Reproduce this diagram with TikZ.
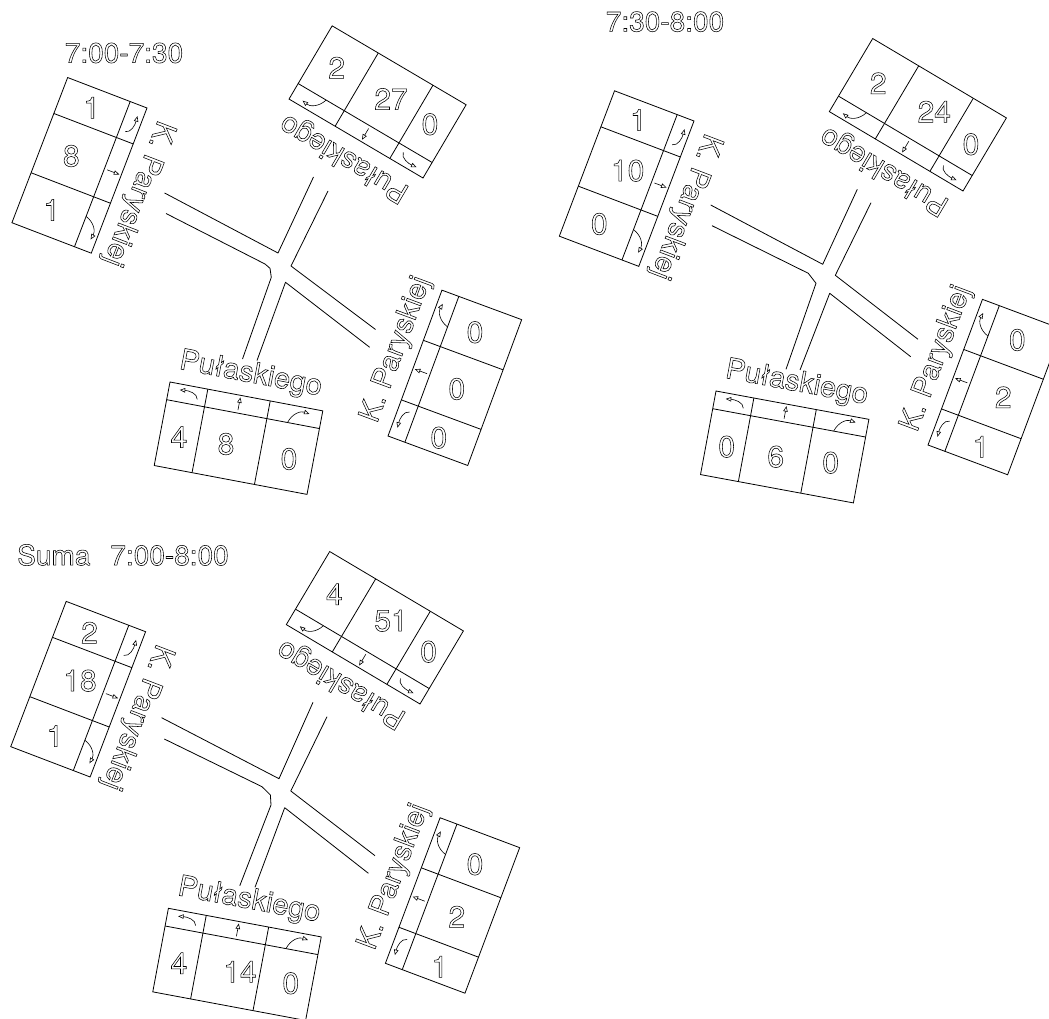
\documentclass[tikz,border=0pt]{standalone}
\usepackage{fontspec}
\setmainfont{TeX Gyre Heros}
\usetikzlibrary{arrows.meta}

\newcommand{\hollow}[1]{\special{pdf:code q 1 Tr 0.55 w}#1\special{pdf:code Q}}

\tikzset{
    road/.style={line width=0.8pt, line join=round},
    box/.style={line width=0.8pt, line join=miter},
    turn/.style={line width=0.6pt, -{Triangle[open, length=5.5pt, width=4.5pt]}},
    numlabel/.style={font=\fontsize{30}{30}\selectfont, inner sep=0pt},
    street/.style={font=\fontsize{29}{29}\selectfont, inner sep=0pt, transform shape},
    timelabel/.style={font=\fontsize{28}{28}\selectfont, inner sep=0pt}
}

% #1 name, #2 strip corner, #3 rotation, #4 street, #5 street position
\newcommand{\armbox}[5]{
    \begin{scope}[shift={#2}, rotate=#3]
        \draw[box] (0,0) rectangle (155.5,85);
        \draw[box] (0,18) -- (155.5,18);
        \draw[box] (38.5,0) -- (38.5,85);
        \draw[box] (102,0) -- (102,85);
        \draw[turn] (30,12) .. controls (29,6) and (20,5) .. (11,6);
        \draw[turn] (72,15) -- (72,2);
        \draw[turn] (123,18) .. controls (126,8) and (134,4) .. (143,5.5);
        \node[street] (#1) at (#5,-22) {\hollow{#4}};
    \end{scope}
}

\begin{document}
\begin{tikzpicture}[x=1pt, y=-1pt]
    \clip (0,0) rectangle (1049,1019);
    \fill[white] (0,0) rectangle (1049,1019);

    % 7:00-7:30
    \node[timelabel] (time1) at (124,53) {\hollow{7:00-7:30}};
    \draw[road] (164.6,193) -- (278,253) -- (313.5,177);
    \draw[road] (166,213.5) -- (265,264) -- (270,268.3) -- (271.3,277.3) -- (242.5,359);
    \draw[road] (328,191) -- (291,266) -- (375.5,329.5);
    \draw[road] (257,360.5) -- (285.5,282.3) -- (369.7,347.3);
    \armbox{west1}{(147,108)}{-111}{K. Paryskiej}{83}
    \armbox{north1}{(423,178)}{149.5}{Pułaskiego}{78}
    \armbox{south1}{(170,382)}{-10.7}{Pułaskiego}{78}
    \armbox{east1}{(388,436)}{69.7}{K. Paryskiej}{84}
    \node[numlabel] (w1a) at (91.7,107.7) {\hollow{1}};
    \node[numlabel] (w1b) at (71.3,156) {\hollow{8}};
    \node[numlabel] (w1c) at (51.7,210) {\hollow{1}};
    \node[numlabel] (n1a) at (336.7,67.7) {\hollow{2}};
    \node[numlabel] (n1b) at (391,99) {\hollow{27}};
    \node[numlabel] (n1c) at (430,124.3) {\hollow{0}};
    \node[numlabel] (s1a) at (179,437) {\hollow{4}};
    \node[numlabel] (s1b) at (226,444) {\hollow{8}};
    \node[numlabel] (s1c) at (289,459) {\hollow{0}};
    \node[numlabel] (e1a) at (475,332.3) {\hollow{0}};
    \node[numlabel] (e1b) at (456.8,389) {\hollow{0}};
    \node[numlabel] (e1c) at (438.8,437.7) {\hollow{0}};

    % 7:30-8:00
    \node[timelabel] (time2) at (665,21.7) {\hollow{7:30-8:00}};
    \draw[road] (710.7,205) -- (822.7,264.3) -- (857.3,189.3);
    \draw[road] (712,225.7) -- (808.3,273.3) -- (816,283.3) -- (786,369.3);
    \draw[road] (871,202.7) -- (835.3,275.3) -- (918,339.3);
    \draw[road] (800,370) -- (829.7,293.3) -- (910.7,356.7);
    \armbox{west2}{(694,121)}{-110.8}{K. Paryskiej}{83}
    \armbox{north2}{(963,191)}{149.3}{Pułaskiego}{78}
    \armbox{south2}{(716,391)}{-10.5}{Pułaskiego}{78}
    \armbox{east2}{(928,445)}{69.5}{K. Paryskiej}{84}
    \node[numlabel] (w2a) at (638.3,120) {\hollow{1}};
    \node[numlabel] (w2b) at (627.7,170.7) {\hollow{10}};
    \node[numlabel] (w2c) at (599.3,224) {\hollow{0}};
    \node[numlabel] (n2a) at (878.3,83.3) {\hollow{2}};
    \node[numlabel] (n2b) at (934.3,111.7) {\hollow{24}};
    \node[numlabel] (n2c) at (971,144.3) {\hollow{0}};
    \node[numlabel] (s2a) at (726.7,446.7) {\hollow{0}};
    \node[numlabel] (s2b) at (775.7,456.7) {\hollow{6}};
    \node[numlabel] (s2c) at (830.7,462.7) {\hollow{0}};
    \node[numlabel] (e2a) at (1017.3,340) {\hollow{0}};
    \node[numlabel] (e2b) at (1003.3,397.3) {\hollow{2}};
    \node[numlabel] (e2c) at (981,446.7) {\hollow{1}};

    % Suma
    \node[timelabel] (time3) at (123,555) {\hollow{Suma\hspace{20pt}7:00-8:00}};
    \draw[road] (161.6,717.7) -- (279,778.7) -- (313,702.3);
    \draw[road] (164.3,739) -- (262,786.7) -- (270.4,795) -- (271,805) -- (239.8,885.7);
    \draw[road] (327,716.7) -- (290.8,791) -- (375,855.7);
    \draw[road] (255,887.3) -- (284.7,807.7) -- (368.4,873.3);
    \armbox{west3}{(145.6,631.7)}{-110.9}{K. Paryskiej}{83}
    \armbox{north3}{(420,704)}{149.3}{Pułaskiego}{78}
    \armbox{south3}{(168.4,908.3)}{-10.6}{Pułaskiego}{78}
    \armbox{east3}{(385.4,963.3)}{69.4}{K. Paryskiej}{84}
    \node[numlabel] (w3a) at (89.5,632.7) {\hollow{2}};
    \node[numlabel] (w3b) at (80,680.7) {\hollow{18}};
    \node[numlabel] (w3c) at (55,736) {\hollow{1}};
    \node[numlabel] (n3a) at (334.4,594.3) {\hollow{4}};
    \node[numlabel] (n3b) at (391,620.7) {\hollow{51}};
    \node[numlabel] (n3c) at (428.6,651.7) {\hollow{0}};
    \node[numlabel] (s3a) at (179,963.3) {\hollow{4}};
    \node[numlabel] (s3b) at (240,971.7) {\hollow{14}};
    \node[numlabel] (s3c) at (290.8,983.3) {\hollow{0}};
    \node[numlabel] (e3a) at (475,864.3) {\hollow{0}};
    \node[numlabel] (e3b) at (456.8,916.7) {\hollow{2}};
    \node[numlabel] (e3c) at (439.8,966.7) {\hollow{1}};
\end{tikzpicture}
\end{document}
